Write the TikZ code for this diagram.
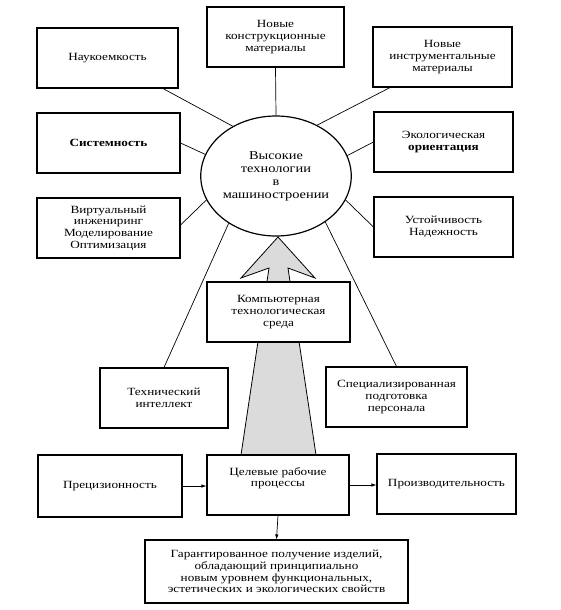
\documentclass[tikz,border=0pt]{standalone}
\usepackage{fontspec}
\setmainfont{Liberation Serif}[FakeStretch=1.2]
\usetikzlibrary{shapes.geometric,arrows.meta}
\begin{document}
\begin{tikzpicture}[x=1pt,y=-1pt,
  box/.style={draw, line width=1.1pt, fill=white, inner sep=0pt, align=center,
    font=\fontsize{11}{11.7}\selectfont},
  hub/.style={ellipse, draw, line width=1.2pt, fill=white, inner sep=0pt,
    minimum width=134pt, minimum height=120pt, font=\fontsize{12}{13}\selectfont},
  link/.style={line width=0.7pt},
  arr/.style={line width=0.7pt,-{Latex[length=5pt,width=3.5pt]}},
  fat/.style={line width=0.8pt, fill=black!14}]
\useasboundingbox (0,0) rectangle (561,610);
\fill[white] (0,0) rectangle (561,610);
% broad arrow (drawn first, lies behind the boxes)
\draw[fat] (241,455) -- (269,268) -- (241,278) -- (278,237) -- (315,278) -- (288,268) -- (316,455) -- cycle;
% hub
\node[hub] (c) at (276,176) {\raisebox{3pt}{\begin{tabular}{@{}c@{}}Высокие\\технологии\\в\\машиностроении\end{tabular}}};
% boxes
\node[box, minimum width=141pt, minimum height=60pt] (nauka) at (107.5,58) {Наукоемкость};
\node[box, minimum width=137pt, minimum height=60pt] (konstr) at (275.5,37) {Новые\\конструкционные\\материалы};
\node[box, minimum width=139pt, minimum height=60pt] (instr) at (442.5,57) {Новые\\инструментальные\\материалы};
\node[box, minimum width=143pt, minimum height=60pt] (sist) at (108.5,143) {\bfseries Системность};
\node[box, minimum width=139pt, minimum height=60pt] (eko) at (443.5,142) {Экологическая\\\bfseries ориентация};
\node[box, minimum width=143pt, minimum height=60pt] (virt) at (108.5,228) {Виртуальный\\инжениринг\\Моделирование\\Оптимизация};
\node[box, minimum width=139pt, minimum height=60pt] (ust) at (443.5,227) {Устойчивость\\Надежность};
\node[box, minimum width=143pt, minimum height=60pt] (komp) at (278.5,312) {Компьютерная\\технологическая\\среда};
\node[box, minimum width=128pt, minimum height=60pt] (tekh) at (164,398) {Технический\\интеллект};
\node[box, minimum width=141pt, minimum height=60pt] (spec) at (396.5,397) {Специализированная\\подготовка\\персонала};
\node[box, minimum width=144pt, minimum height=62pt] (prec) at (110,486) {Прецизионность};
\node[box, minimum width=142pt, minimum height=60pt] (cel) at (278,485) {Целевые рабочие\\процессы\\[4pt]};
\node[box, minimum width=139pt, minimum height=60pt] (prod) at (446.5,484) {Производительность};
\node[box, minimum width=263pt, minimum height=63pt] (res) at (276.5,571.5)
  {Гарантированное получение изделий,\\обладающий принципиально\\новым уровнем функциональных,\\эстетических и экологических свойств};
% links to the hub
\draw[link] ([xshift=55.5pt]nauka.south) -- (c.131);
\draw[link] (sist.east) -- (c.163);
\draw[link] (konstr.south) -- (c.north);
\draw[link] ([xshift=-52.5pt]instr.south) -- (c.51);
\draw[link] (eko.west) -- (c.16);
\draw[link] ([yshift=3pt]virt.east) -- (c.199);
\draw[link] (ust.west) -- (c.341);
\draw[link] (tekh.north) -- (c.225);
\draw[link] (spec.north) -- (c.317);
% bottom arrows
\draw[arr] (prec.east) -- (prec.east -| cel.west);
\draw[arr] (cel.east) -- (cel.east -| prod.west);
\draw[arr] (cel.south) -- (res.north);
\end{tikzpicture}
\end{document}
